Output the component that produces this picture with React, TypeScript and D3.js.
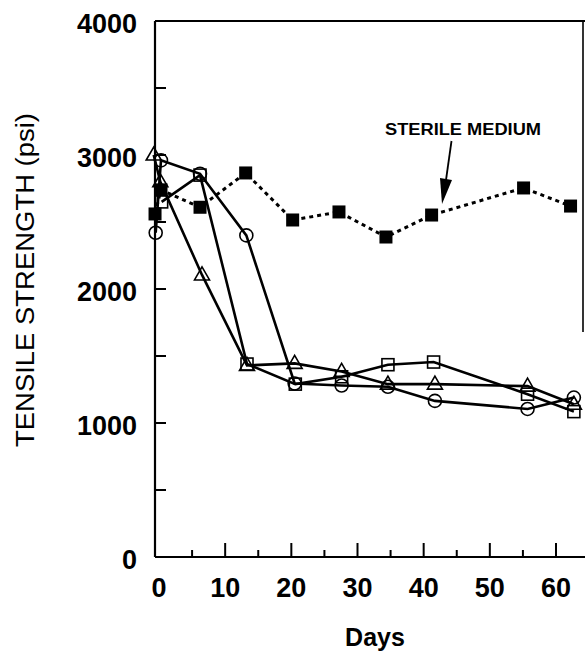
import React, { useRef, useEffect } from "react";
import { select, scaleLinear, line, range } from "d3";

// sterile medium (filled squares, dotted)
const sterileDays = [-0.6, 0.3, 6.2, 13.1, 20.2, 27.2, 34.3, 41.2, 55.1, 62.2];
const sterileValues = [2560, 2740, 2610, 2866, 2515, 2575, 2388, 2552, 2754, 2619];

// open circles
const circleDays = [-0.5, 0.3, 6.2, 13.2, 20.5, 27.6, 34.6, 41.7, 55.7, 62.7];
const circleValues = [2420, 2960, 2860, 2400, 1295, 1280, 1270, 1165, 1105, 1190];

// open triangles
const triangleDays = [-0.8, 0.2, 6.5, 13.3, 20.5, 27.6, 34.6, 41.7, 55.7, 62.7];
const triangleValues = [3000, 2800, 2105, 1430, 1445, 1385, 1290, 1290, 1275, 1140];

// open squares
const squareDays = [0.4, 6.2, 13.3, 20.6, 27.6, 34.6, 41.5, 55.7, 62.7];
const squareValues = [2650, 2850, 1440, 1290, 1345, 1435, 1455, 1215, 1085];

const xTickLabels = [0, 10, 20, 30, 40, 50, 60];
const yTickLabels = [0, 1000, 2000, 3000, 4000];

const annotation = "STERILE MEDIUM";

const font = "'Liberation Sans', Arial, Helvetica, sans-serif";

const zip = (xs, ys) => xs.map((x, i) => ({ day: x, value: ys[i] }));

const App = () => {
  const svgRef = useRef(null);

  useEffect(() => {
    const width = 585;
    const height = 652;
    const svg = select(svgRef.current).attr("width", width).attr("height", height);
    svg.selectAll("*").remove();

    const xScale = scaleLinear().domain([0, 60]).range([159, 556]);
    const yScale = scaleLinear().domain([0, 4000]).range([557, 21]);

    const axisX = 155;
    const axisY = yScale(0);
    const topY = yScale(4000);
    const rightX = 583;

    const g = svg.append("g");

    // frame
    g.append("line").attr("x1", axisX).attr("x2", axisX).attr("y1", topY).attr("y2", axisY)
      .attr("stroke", "#000").attr("stroke-width", 2.2);
    g.append("line").attr("x1", axisX).attr("x2", width).attr("y1", axisY).attr("y2", axisY)
      .attr("stroke", "#000").attr("stroke-width", 2.2);
    g.append("line").attr("x1", axisX).attr("x2", width).attr("y1", topY).attr("y2", topY)
      .attr("stroke", "#000").attr("stroke-width", 2.2);
    g.append("line").attr("x1", rightX).attr("x2", rightX).attr("y1", topY).attr("y2", 332)
      .attr("stroke", "#000").attr("stroke-width", 1.6);

    // y ticks (inward)
    g.selectAll(".ytick")
      .data(range(500, 4000, 500))
      .join("line")
      .attr("class", "ytick")
      .attr("x1", axisX)
      .attr("x2", axisX + 11)
      .attr("y1", (d) => yScale(d))
      .attr("y2", (d) => yScale(d))
      .attr("stroke", "#000")
      .attr("stroke-width", 2);

    // x ticks (inward), long at 10s, short at 5s
    g.selectAll(".xtick")
      .data(range(5, 65, 5))
      .join("line")
      .attr("class", "xtick")
      .attr("x1", (d) => xScale(d))
      .attr("x2", (d) => xScale(d))
      .attr("y1", axisY)
      .attr("y2", (d) => (d % 10 === 0 ? axisY - 14 : axisY - 7))
      .attr("stroke", "#000")
      .attr("stroke-width", 2);

    // tick labels
    g.selectAll(".ylabel")
      .data(yTickLabels)
      .join("text")
      .attr("class", "ylabel")
      .attr("x", 137)
      .attr("y", (d) => yScale(d) + 2)
      .attr("dy", "0.36em")
      .attr("text-anchor", "end")
      .attr("font-family", font)
      .attr("font-weight", "bold")
      .attr("font-size", 27)
      .text((d) => d);

    g.selectAll(".xlabel")
      .data(xTickLabels)
      .join("text")
      .attr("class", "xlabel")
      .attr("x", (d) => xScale(d))
      .attr("y", 597)
      .attr("text-anchor", "middle")
      .attr("font-family", font)
      .attr("font-weight", "bold")
      .attr("font-size", 27)
      .text((d) => d);

    // axis titles
    g.append("text")
      .attr("x", 375)
      .attr("y", 646)
      .attr("text-anchor", "middle")
      .attr("font-family", font)
      .attr("font-weight", "bold")
      .attr("font-size", 25)
      .text("Days");

    g.append("text")
      .attr("transform", "translate(34,280) rotate(-90)")
      .attr("text-anchor", "middle")
      .attr("font-family", font)
      .attr("font-size", 26)
      .attr("textLength", 334)
      .attr("lengthAdjust", "spacingAndGlyphs")
      .text("TENSILE STRENGTH (psi)");

    const lineGen = line()
      .x((d) => xScale(d.day))
      .y((d) => yScale(d.value));

    const sterile = zip(sterileDays, sterileValues);
    const circles = zip(circleDays, circleValues);
    const triangles = zip(triangleDays, triangleValues);
    const squares = zip(squareDays, squareValues);

    // lines
    [circles, triangles, squares].forEach((s) => {
      g.append("path")
        .datum(s)
        .attr("d", lineGen)
        .attr("fill", "none")
        .attr("stroke", "#000")
        .attr("stroke-width", 2.6);
    });
    g.append("path")
      .datum(sterile)
      .attr("d", lineGen)
      .attr("fill", "none")
      .attr("stroke", "#000")
      .attr("stroke-width", 3)
      .attr("stroke-dasharray", "4 4");

    // markers
    g.selectAll(".circle")
      .data(circles)
      .join("circle")
      .attr("class", "circle")
      .attr("cx", (d) => xScale(d.day))
      .attr("cy", (d) => yScale(d.value))
      .attr("r", 6.5)
      .attr("fill", "none")
      .attr("stroke", "#000")
      .attr("stroke-width", 1.6);

    g.selectAll(".tri")
      .data(triangles)
      .join("path")
      .attr("class", "tri")
      .attr("d", (d) => {
        const x = xScale(d.day);
        const y = yScale(d.value);
        return `M${x},${y - 8}L${x + 7.5},${y + 5}L${x - 7.5},${y + 5}Z`;
      })
      .attr("fill", "none")
      .attr("stroke", "#000")
      .attr("stroke-width", 1.6);

    g.selectAll(".sq")
      .data(squares)
      .join("rect")
      .attr("class", "sq")
      .attr("x", (d) => xScale(d.day) - 6)
      .attr("y", (d) => yScale(d.value) - 6)
      .attr("width", 12)
      .attr("height", 12)
      .attr("fill", "none")
      .attr("stroke", "#000")
      .attr("stroke-width", 1.6);

    g.selectAll(".fsq")
      .data(sterile)
      .join("rect")
      .attr("class", "fsq")
      .attr("x", (d) => xScale(d.day) - 6.5)
      .attr("y", (d) => yScale(d.value) - 6.5)
      .attr("width", 13)
      .attr("height", 13)
      .attr("fill", "#000");

    // annotation
    g.append("text")
      .attr("x", 385)
      .attr("y", 135)
      .attr("font-family", font)
      .attr("font-weight", "bold")
      .attr("font-size", 16)
      .attr("textLength", 156)
      .attr("lengthAdjust", "spacingAndGlyphs")
      .text(annotation);

    g.append("line")
      .attr("x1", 451.5)
      .attr("y1", 141)
      .attr("x2", 446)
      .attr("y2", 180)
      .attr("stroke", "#000")
      .attr("stroke-width", 1.8);
    g.append("path")
      .attr("d", "M442,204L440,178L452,180Z")
      .attr("fill", "#000");
  }, []);

  return (
    <div style={{ position: "absolute", left: 0, top: 0 }}>
      <svg ref={svgRef} style={{ display: "block", background: "#fff" }}></svg>
    </div>
  );
};

export default App;
